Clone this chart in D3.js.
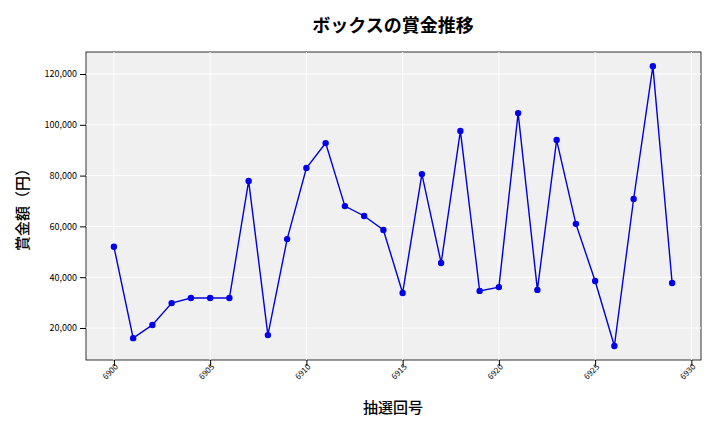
<!DOCTYPE html><html><head><meta charset="utf-8">
<script src="https://cdn.jsdelivr.net/npm/d3@7"></script>
<style>body{margin:0;background:#fff}</style></head><body><svg id="c" width="720" height="432"></svg>
<script>
const draws=[6900,6901,6902,6903,6904,6905,6906,6907,6908,6909,6910,6911,6912,6913,6914,6915,6916,6917,6918,6919,6920,6921,6922,6923,6924,6925,6926,6927,6928,6929];
const prizes=[52000,16000,21200,29800,31800,31800,31800,77900,17200,55000,83000,92800,68000,64100,58600,33800,80600,45600,97600,34600,36100,104600,35000,94000,61000,38500,12900,70800,123100,37700];
const xTicks=[6900,6905,6910,6915,6920,6925,6930];
const yTicks=[20000,40000,60000,80000,100000,120000];
const F="'Noto Sans CJK JP',sans-serif";
const svg=d3.select("#c");
const L=86,R=701,T=52,B=360;
const x=d3.scaleLinear().domain([6898.55,6930.5]).range([L,R]);
const y=d3.scaleLinear().domain([20000,120000]).range([328,74]);
svg.append("rect").attr("x",L).attr("y",T).attr("width",R-L).attr("height",B-T).attr("fill","#f0f0f0").attr("stroke","#000").attr("stroke-width",0.8);
const g=svg.append("g");
xTicks.forEach(t=>g.append("line").attr("x1",x(t)).attr("x2",x(t)).attr("y1",T).attr("y2",B).attr("stroke","#fff"));
yTicks.forEach(t=>g.append("line").attr("x1",L).attr("x2",R).attr("y1",y(t)).attr("y2",y(t)).attr("stroke","#fff"));
const ax=svg.append("g").attr("transform",`translate(0,${B})`).call(d3.axisBottom(x).tickValues(xTicks).tickFormat(d3.format("d")).tickSizeOuter(0));
ax.select(".domain").remove();
ax.selectAll("text").attr("font-family",F).attr("font-size",8).attr("y",6).attr("dy","0.5em").attr("x",2).attr("transform","rotate(-45,0,6)").attr("text-anchor","end");
const ay=svg.append("g").attr("transform",`translate(${L},0)`).call(d3.axisLeft(y).tickValues(yTicks).tickFormat(d3.format(",")).tickSizeOuter(0));
ay.select(".domain").remove();
ay.selectAll("text").attr("font-family",F).attr("font-size",9);
svg.append("path").datum(draws.map((d,i)=>[d,prizes[i]])).attr("fill","none").attr("stroke","#0000dd").attr("stroke-width",1.4)
 .attr("d",d3.line().x(d=>x(d[0])).y(d=>y(d[1])));
svg.selectAll("circle").data(draws).enter().append("circle").attr("cx",d=>x(d)).attr("cy",(d,i)=>y(prizes[i])).attr("r",3.2).attr("fill","#0000ee");
svg.append("text").attr("x",393).attr("y",32).attr("text-anchor","middle").attr("font-family",F).attr("font-size",18).attr("font-weight","bold").text("ボックスの賞金推移");
svg.append("text").attr("x",393).attr("y",413).attr("text-anchor","middle").attr("font-family",F).attr("font-size",15).attr("font-weight",500).text("抽選回号");
svg.append("text").attr("transform","translate(28,206) rotate(-90)").attr("text-anchor","middle").attr("font-family",F).attr("font-size",15).attr("font-weight",500).text("賞金額（円）");
</script></body></html>
